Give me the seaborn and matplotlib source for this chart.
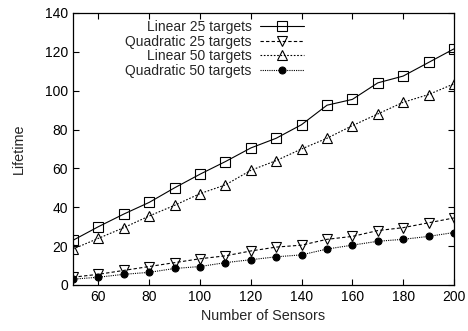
import matplotlib
matplotlib.use("Agg")
import matplotlib.pyplot as plt
import seaborn as sns

sensors = [50, 60, 70, 80, 90, 100, 110, 120, 130, 140, 150, 160, 170, 180, 190, 200]
linear_25 = [23, 30, 36.5, 42.5, 50, 57, 63.5, 70.5, 75.5, 82.5, 92.5, 95.5, 104, 107.5, 114.5, 121.5]
quad_25 = [4, 5.5, 7.5, 9.5, 11.5, 13.5, 15, 17.5, 19.5, 20.5, 23.5, 25, 28, 29.5, 32, 34.5]
linear_50 = [18.5, 24, 29.5, 35.5, 41, 47, 51.5, 59, 64, 70, 75.5, 82, 88, 94, 98, 103.5]
quad_50 = [3, 4, 5.5, 6.5, 8.5, 9.5, 11.5, 13, 14.5, 15.5, 18.5, 20.5, 22.5, 23.5, 25, 27]

sns.set_style("ticks")
plt.rcParams['font.family'] = ['Liberation Sans', 'DejaVu Sans']

fig = plt.figure(figsize=(4.68, 3.31), dpi=100)
ax = fig.add_axes([0.156, 0.139, 0.814, 0.822])

series = [
    ("Linear 25 targets", linear_25, "-", "s", "none", 6.5),
    ("Quadratic 25 targets", quad_25, (0, (3, 2)), "v", "none", 6.5),
    ("Linear 50 targets", linear_50, (0, (1.5, 1.5)), "^", "none", 6.5),
    ("Quadratic 50 targets", quad_50, (0, (1, 1)), "o", "black", 5),
]

for label, vals, ls, mk, fc, ms in series:
    sns.lineplot(x=sensors, y=vals, ax=ax, label=label, color="black",
                 linestyle=ls, linewidth=0.8, marker=mk, markersize=ms,
                 markerfacecolor=fc, markeredgecolor="black", markeredgewidth=0.8)

ax.set_xlim(50, 200)
ax.set_ylim(0, 140)
ax.set_xticks(range(60, 201, 20))
ax.set_yticks(range(0, 141, 20))
ax.tick_params(direction="in", top=True, right=True, labelsize=10, length=4, width=0.8,
               colors="black")
for s in ax.spines.values():
    s.set_visible(True)
    s.set_color("black")
    s.set_linewidth(0.9)
ax.set_xlabel("Number of Sensors", fontsize=10.4, labelpad=4)
ax.set_ylabel("Lifetime", fontsize=10.4, labelpad=14)

ax.legend(loc="upper right", bbox_to_anchor=(0.625, 1.0), frameon=False, markerfirst=False,
          fontsize=10, handlelength=3.2, labelspacing=0.05, borderaxespad=0.1,
          handletextpad=0.6)

fig.savefig("out.png", dpi=100)
